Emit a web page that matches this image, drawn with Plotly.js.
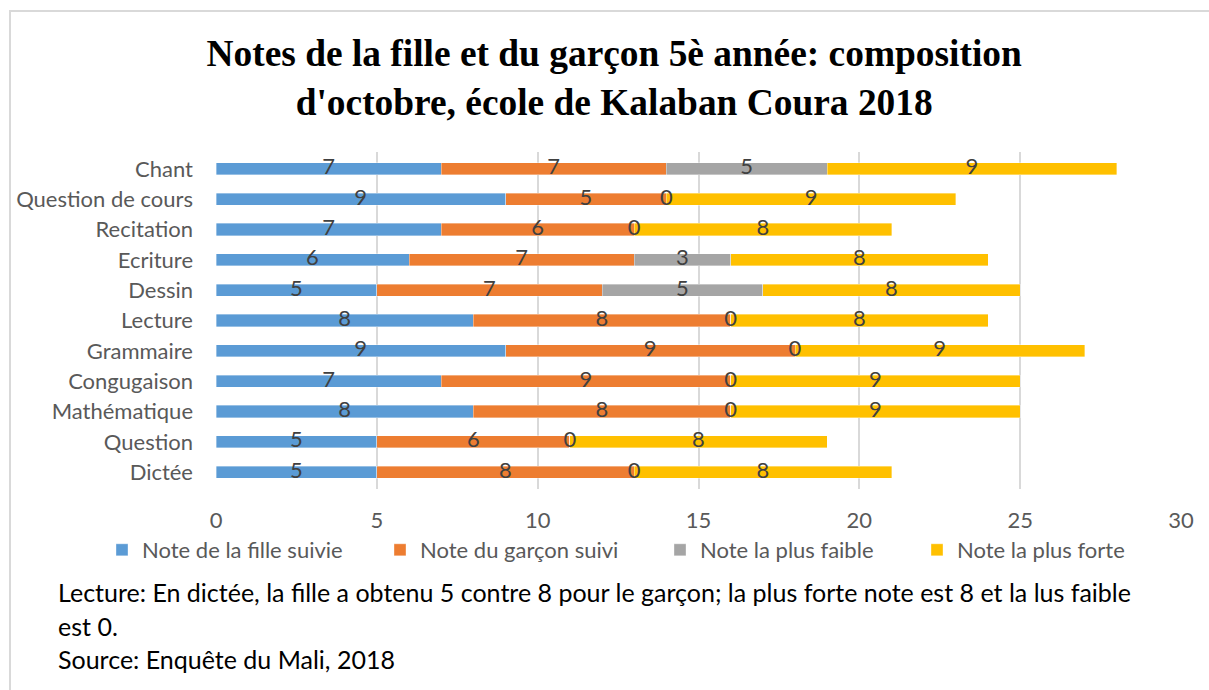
<!DOCTYPE html>
<html>
<head>
<meta charset="utf-8">
<script src="https://cdn.plot.ly/plotly-3.0.1.min.js"></script>
<style>
html,body{margin:0;padding:0;background:#fff;}
#wrap{position:relative;width:1209px;height:690px;overflow:hidden;}
#chart{position:absolute;left:0;top:0;width:1209px;height:690px;}
#frame{position:absolute;left:9px;top:10px;width:1220px;height:700px;border:2px solid #d9d9d9;pointer-events:none;box-sizing:border-box;}
</style>
</head>
<body>
<div id="wrap"><div id="chart"></div><div id="frame"></div></div>
<script>
const categories = ["Dictée","Question","Mathématique","Congugaison","Grammaire","Lecture","Dessin","Ecriture","Recitation","Question de cours","Chant"];
const filleSuivie   = [5,5,8,7,9,8,5,6,7,9,7];
const garconSuivi   = [8,6,8,9,9,8,7,7,6,5,7];
const notePlusFaible= [0,0,0,0,0,0,5,3,0,0,5];
const notePlusForte = [8,8,9,9,9,8,8,8,8,9,9];
const seriesNames = ["Note de la fille suivie","Note du garçon suivi","Note la plus faible","Note la plus forte"];
const colors = ["#5B9BD5","#ED7D31","#A5A5A5","#FFC000"];
const xTicks = [0,5,10,15,20,25,30];
const noteLines = [
  "Lecture: En dictée, la fille a obtenu 5 contre 8 pour le garçon; la plus forte note est 8 et la lus faible",
  "est 0.",
  "Source: Enquête du Mali, 2018"
];

const FONT = "Lato, 'Open Sans', sans-serif";
const allSeries = [filleSuivie, garconSuivi, notePlusFaible, notePlusForte];
const legendNames = ["legend","legend2","legend3","legend4"];
const traces = [];
allSeries.forEach((vals,i)=>{
  traces.push({
    type:"bar", orientation:"h", name:seriesNames[i],
    x:vals, y:categories,
    marker:{color:colors[i], line:{color:"rgba(255,255,255,0.6)", width:0.6}},
    legend:legendNames[i], hoverinfo:"x+name"
  });
});
// data labels
const lx=[], ly=[], lt=[];
const base = categories.map(()=>0);
allSeries.forEach(vals=>{
  vals.forEach((v,j)=>{ lx.push(base[j]+v/2); ly.push(categories[j]); lt.push(String(v)); base[j]+=v; });
});
traces.push({type:"scatter", mode:"text", x:lx, y:ly, text:lt, textposition:"middle center",
  textfont:{family:FONT, size:22, color:"#404040"}, showlegend:false, hoverinfo:"skip", cliponaxis:false});

const W=1209,H=690;
const legX = [102, 380, 660, 917];
const legendCfg = {};
legendNames.forEach((n,i)=>{
  legendCfg[n] = {orientation:"h", xref:"container", yref:"container", x:legX[i]/W, y:1-550/H,
    xanchor:"left", yanchor:"middle", font:{family:FONT, size:22, color:"#595959"}, bgcolor:"rgba(0,0,0,0)"};
});

const annotations = [];
const lineY=[592,626,659];
const plotL=216, plotR=1181, plotT=152, plotB=489;
noteLines.forEach((t,i)=>{
  annotations.push({xref:"paper", yref:"paper", x:(56-plotL)/(plotR-plotL), y:(plotB-lineY[i])/(plotB-plotT),
    xanchor:"left", yanchor:"middle", showarrow:false, align:"left", text:t,
    font:{family:FONT, size:25, color:"#000"}});
});

const layout = Object.assign({
  width:W, height:H,
  margin:{l:plotL, r:W-plotR, t:plotT, b:H-plotB, pad:0},
  paper_bgcolor:"#fff", plot_bgcolor:"#fff",
  barmode:"stack", bargap:0.6,
  title:{text:"Notes de la fille et du garçon 5è année: composition<br>d'octobre, école de Kalaban Coura 2018",
    font:{family:"'Liberation Serif', 'Times New Roman', serif", size:37.4, color:"#000", weight:"bold"},
    x:0.508, xref:"container", y:1-66/H, yref:"container", yanchor:"middle"},
  xaxis:{range:[0,30], tickvals:xTicks, showgrid:true, gridcolor:"#d9d9d9", gridwidth:1.5,
    zeroline:false, showline:false, ticks:"", ticklabelstandoff:16, tickfont:{family:FONT, size:22, color:"#595959"}, fixedrange:true},
  yaxis:{categoryorder:"array", categoryarray:categories, showgrid:false, zeroline:false, showline:false,
    ticks:"", ticklabelstandoff:22, tickfont:{family:FONT, size:22, color:"#595959"}, fixedrange:true},
  annotations:annotations,
  showlegend:true
}, legendCfg);

Plotly.newPlot("chart", traces, layout, {displayModeBar:false, staticPlot:false});
</script>
</body>
</html>
